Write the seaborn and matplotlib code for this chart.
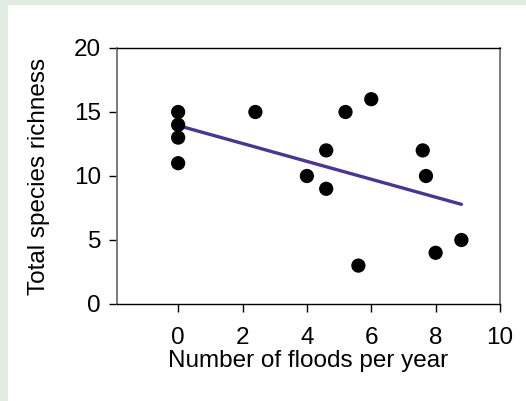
import matplotlib
matplotlib.use("Agg")
import matplotlib.pyplot as plt
import seaborn as sns
import pandas as pd
from matplotlib.patches import Rectangle

floods = [0, 0, 0, 0, 2.4, 4, 4.6, 4.6, 5.2, 5.6, 6, 7.6, 7.7, 8, 8.8]
richness = [15, 14, 13, 11, 15, 10, 12, 9, 15, 3, 16, 12, 10, 4, 5]
x_ticks = [0, 2, 4, 6, 8, 10]
y_ticks = [0, 5, 10, 15, 20]

df = pd.DataFrame({"floods": floods, "richness": richness})

sns.set_theme(style="white")
plt.rcParams['font.family'] = ['Liberation Sans', 'DejaVu Sans']
plt.rcParams['xtick.major.pad'] = 11
plt.rcParams['ytick.major.pad'] = 6

fig = plt.figure(figsize=(5.26, 4.01), dpi=100, facecolor="#e1ebe3")
fig.add_artist(Rectangle((8 / 526, 0), 1, (401 - 5) / 401, transform=fig.transFigure,
                         facecolor="white", edgecolor="none", zorder=-1))
ax = fig.add_axes([117 / 526, (401 - 304) / 401, (500 - 117) / 526, (304 - 48) / 401])
ax.set_facecolor("white")

sns.regplot(data=df, x="floods", y="richness", ci=None, ax=ax, truncate=True,
            scatter_kws=dict(s=105, color="black", alpha=1, edgecolors="none", zorder=3),
            line_kws=dict(color="#4a3590", lw=2.4, zorder=2))

ax.set_xlim(-1.9, 10)
ax.set_ylim(0, 20)
ax.set_xticks(x_ticks)
ax.set_yticks(y_ticks)
ax.tick_params(axis="both", which="major", labelsize=17.5, direction="out",
               length=5.5, width=1, colors="black", left=True, bottom=True)
ax.set_xlabel("Number of floods per year", fontsize=17.5, labelpad=0.5, color="black")
ax.set_ylabel("Total species richness", fontsize=17.5, labelpad=17, color="black")
for side in ["top", "bottom"]:
    ax.spines[side].set_color("black")
    ax.spines[side].set_linewidth(1)
for side in ["left", "right"]:
    ax.spines[side].set_color("#707070")
    ax.spines[side].set_linewidth(1.3)

fig.savefig("out.png", dpi=100, facecolor=fig.get_facecolor())
